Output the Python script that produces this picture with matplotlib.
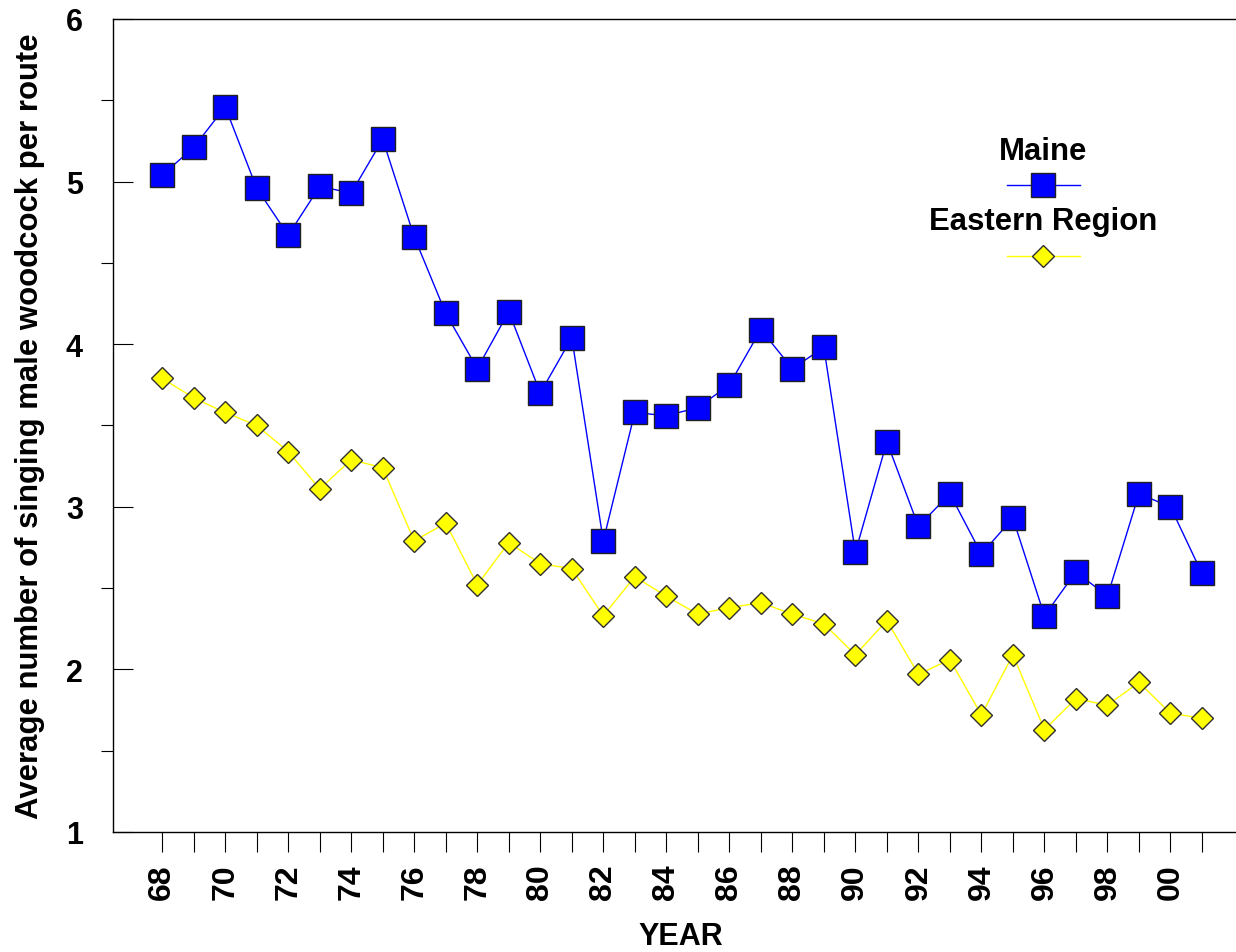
import matplotlib
matplotlib.use("Agg")
import matplotlib.pyplot as plt
from matplotlib.lines import Line2D
from matplotlib.ticker import FixedLocator

plt.rcParams['font.family'] = ['Liberation Sans', 'DejaVu Sans']
plt.rcParams['font.weight'] = 'bold'

years = list(range(68, 102))
maine = [5.04, 5.21, 5.46, 4.96, 4.67, 4.97, 4.93, 5.26, 4.66, 4.19,
         3.85, 4.20, 3.70, 4.04, 2.79, 3.58, 3.56, 3.61, 3.75, 4.09,
         3.85, 3.98, 2.72, 3.40, 2.88, 3.08, 2.71, 2.93, 2.33, 2.60,
         2.45, 3.08, 3.00, 2.59]
eastern = [3.79, 3.67, 3.58, 3.50, 3.34, 3.11, 3.29, 3.24, 2.79, 2.90,
           2.52, 2.78, 2.65, 2.62, 2.33, 2.57, 2.45, 2.34, 2.38, 2.41,
           2.34, 2.28, 2.09, 2.30, 1.97, 2.06, 1.72, 2.09, 1.63, 1.82,
           1.78, 1.92, 1.73, 1.70]
label_years = list(range(68, 102, 2))
label_text = ["%02d" % (y % 100) for y in label_years]
series_names = ["Maine", "Eastern Region"]

W, H = 1236, 953
fig = plt.figure(figsize=(W / 100, H / 100), dpi=100)
ax = fig.add_axes([113 / W, 1 - 833 / H, (W - 113) / W, (833 - 20) / H])

ax.plot(years, maine, color='#0000FF', lw=1.0, marker='s', markersize=17,
        markerfacecolor='#0000FF', markeredgecolor='#202020', markeredgewidth=1.0,
        zorder=3)
ax.plot(years, eastern, color='#FFFF00', lw=1.0, marker='D', markersize=11.5,
        markerfacecolor='#FFFF00', markeredgecolor='#303030', markeredgewidth=1.0,
        zorder=3)

ax.set_xlim(66.44, 102.08)
ax.set_ylim(1, 6)

ax.spines['right'].set_visible(False)
for s in ['left', 'bottom', 'top']:
    ax.spines[s].set_linewidth(1.0)

ax.xaxis.set_major_locator(FixedLocator(label_years))
ax.xaxis.set_minor_locator(FixedLocator([y for y in years if y not in label_years]))
ax.set_xticklabels(label_text, rotation=90, fontsize=23, fontweight='bold')
ax.tick_params(axis='x', which='both', direction='out', length=14.4, width=0.8,
               pad=8.0, top=False)

ax.yaxis.set_major_locator(FixedLocator([1, 2, 3, 4, 5, 6]))
ax.yaxis.set_minor_locator(FixedLocator([1.5, 2.5, 3.5, 4.5, 5.5]))
ax.set_yticklabels(['1', '2', '3', '4', '5', '6'], fontsize=22, fontweight='bold')
ax.tick_params(axis='y', which='major', direction='in', length=14.4, width=0.8,
               pad=21.6, right=False)
ax.tick_params(axis='y', which='minor', direction='out', length=8.6, width=0.8,
               right=False)

ax.set_xlabel('YEAR', fontsize=22, fontweight='bold')
ax.xaxis.set_label_coords(0.506, -0.1095)
ax.set_ylabel('Average number of singing male woodcock per route', fontsize=22.4,
              fontweight='bold')
ax.yaxis.set_label_coords(-0.0605, 0.5)

# legend (label above its handle)
def fx(px):
    return px / W

def fy(py):
    return 1 - py / H

fig.text(fx(1043), fy(152), series_names[0], ha='center', va='center',
         fontsize=22.4, fontweight='bold')
fig.add_artist(Line2D([fx(1007), fx(1080)], [fy(186), fy(186)], color='#0000FF', lw=1.0,
                      transform=fig.transFigure))
fig.add_artist(Line2D([fx(1043)], [fy(186)], marker='s', markersize=17,
                      markerfacecolor='#0000FF', markeredgecolor='#202020',
                      markeredgewidth=1.0, transform=fig.transFigure))
fig.text(fx(1043), fy(222), series_names[1], ha='center', va='center',
         fontsize=22.4, fontweight='bold')
fig.add_artist(Line2D([fx(1007), fx(1080)], [fy(257), fy(257)], color='#FFFF00', lw=1.0,
                      transform=fig.transFigure))
fig.add_artist(Line2D([fx(1043)], [fy(257)], marker='D', markersize=11.5,
                      markerfacecolor='#FFFF00', markeredgecolor='#303030',
                      markeredgewidth=1.0, transform=fig.transFigure))

fig.savefig('out.png', dpi=100)
